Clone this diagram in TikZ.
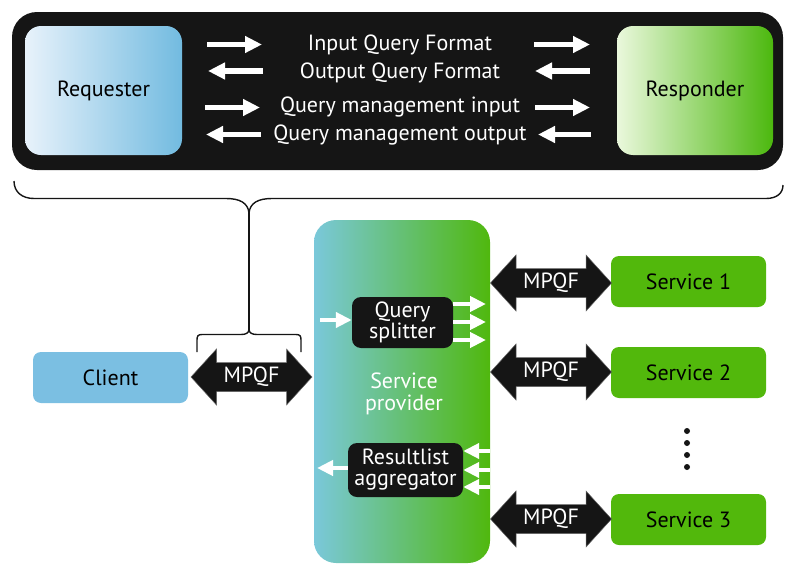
\documentclass[tikz,border=0pt]{standalone}
\usepackage{fontspec}
\setmainfont{PT Sans}
\usetikzlibrary{arrows.meta}
\definecolor{ink}{HTML}{151515}
\definecolor{reqL}{HTML}{E8F2FB}
\definecolor{reqR}{HTML}{72BBE0}
\definecolor{resL}{HTML}{EAF8DC}
\definecolor{resR}{HTML}{4CB80E}
\definecolor{clientblue}{HTML}{7BBFE2}
\definecolor{servgreen}{HTML}{52B80C}
\definecolor{spL}{HTML}{7AC8DA}
\definecolor{spM}{HTML}{78D2B0}
\definecolor{spR}{HTML}{50B80E}
\tikzset{
  box/.style={rounded corners=#1, inner sep=0pt, align=center},
  box/.default=8pt,
  bigarrow/.style={white, line width=5.5pt, -{Triangle[length=17pt,width=16pt]}},
  smallarrow/.style={white, line width=4pt, -{Triangle[length=16pt,width=15pt]}},
  bracepath/.style={draw=ink, line width=1.4pt},
  mpqfarrow/.pic={
    \fill[ink, draw=black!60, line width=0.5pt]
      (-60.5,0) -- (-35,-28) -- (-35,-14.5) -- (35,-14.5) -- (35,-28) -- (60.5,0)
      -- (35,28) -- (35,14.5) -- (-35,14.5) -- (-35,28) -- cycle;
    \node[text=white] (-lbl) at (0,0) {MPQF};
  }
}
\begin{document}
\begin{tikzpicture}[x=1pt,y=-1pt,font=\fontsize{22}{21}\selectfont]
\useasboundingbox (0,0) rectangle (785,565);

% upper panel: requester and responder exchanging query formats
\node[box=25pt, fill=ink, minimum width=771pt, minimum height=158pt] (panel) at (397.5,91) {};
\node[box=16pt, left color=reqL, right color=reqR, minimum width=157pt, minimum height=129pt] (req) at (103.5,90.5) {Requester};
\node[box=16pt, left color=resL, right color=resR, minimum width=156pt, minimum height=129pt] (res) at (695,90.5) {Responder};

\node[text=white] (l1) at (400,44.5) {Input Query Format};
\node[text=white] (l2) at (400,72.5) {Output Query Format};
\node[text=white] (l3) at (400,106.5) {Query management input};
\node[text=white] (l4) at (400,135) {Query management output};

\coordinate (a1a) at (207,44.5);  \coordinate (a1b) at (262,44.5);
\coordinate (a1c) at (534,44.5);  \coordinate (a1d) at (590,44.5);
\coordinate (a2a) at (263,71);    \coordinate (a2b) at (208,71);
\coordinate (a2c) at (590,71);    \coordinate (a2d) at (535,71);
\coordinate (a3a) at (205,107.5); \coordinate (a3b) at (260,107.5);
\coordinate (a3c) at (535,107.5); \coordinate (a3d) at (590,107.5);
\coordinate (a4a) at (261,134.5); \coordinate (a4b) at (206,134.5);
\coordinate (a4c) at (591,134.5); \coordinate (a4d) at (538,134.5);
\foreach \r in {1,2,3,4}{
  \draw[bigarrow] (a\r a) -- (a\r b);
  \draw[bigarrow] (a\r c) -- (a\r d);
}

% braces
\coordinate (bigtip) at (249,213);
\coordinate (smalltip) at (249,329);
\draw[bracepath] (14,181) .. controls (14,192) and (22,198.5) .. (34,198.5) -- (226,198.5)
  .. controls (240,198.5) and (248,203) .. (bigtip)
  .. controls (250,203) and (258,198.5) .. (272,198.5) -- (766,198.5)
  .. controls (777,198.5) and (783,193) .. (783,185);
\draw[bracepath] (bigtip) -- (smalltip);
\draw[bracepath] (197,352) -- (197,340) .. controls (197,336) and (198,334.5) .. (202,334.5) -- (241,334.5)
  .. controls (246,334.5) and (249,333) .. (smalltip)
  .. controls (249,333) and (252,334.5) .. (257,334.5) -- (296,334.5)
  .. controls (300,334.5) and (301,336) .. (301,340) -- (301,352);

% service provider with its two inner stages
\node[box=22pt, left color=spL, middle color=spM, right color=spR, minimum width=176pt, minimum height=343pt] (sp) at (402,391.5) {};
\node[text=white, align=center] (splabel) at (404,394) {Service\\[1pt]provider};
\node[box=9pt, fill=ink, text=white, minimum width=101pt, minimum height=51pt] (split) at (402.5,322.5) {Query\\splitter};
\node[box=9pt, fill=ink, text=white, minimum width=115pt, minimum height=54pt] (agg) at (405.5,470) {Resultlist\\aggregator};

\coordinate (splitin) at (320,320);
\draw[smallarrow] (splitin) -- (split.west |- splitin);
\foreach \y [count=\i] in {304,322,340}{
  \coordinate (sout\i) at (486,\y);
  \draw[smallarrow] (split.east |- sout\i) -- (sout\i);
}
\foreach \y [count=\i] in {451,470,487}{
  \coordinate (ain\i) at (490,\y);
  \draw[smallarrow] (ain\i) -- (agg.east |- ain\i);
}
\coordinate (aggout) at (317,468);
\draw[smallarrow] (agg.west |- aggout) -- (aggout);

% client and services
\node[box=8pt, fill=clientblue, minimum width=155pt, minimum height=51pt] (client) at (110.5,377.5) {Client};
\node[box=8pt, fill=servgreen, minimum width=155pt, minimum height=51pt] (s1) at (688.5,281.5) {Service 1};
\node[box=8pt, fill=servgreen, minimum width=155pt, minimum height=51pt] (s2) at (688.5,372.5) {Service 2};
\node[box=8pt, fill=servgreen, minimum width=155pt, minimum height=51pt] (s3) at (688.5,519.5) {Service 3};

% MPQF links
\pic (mc) at (251.5,377) {mpqfarrow};
\pic (m1) at (551,283) {mpqfarrow};
\pic (m2) at (551,372) {mpqfarrow};
\pic (m3) at (551,519) {mpqfarrow};

% more services
\foreach \y [count=\i] in {431,443,455,467}
  \fill[ink] (687,\y) circle (3pt) coordinate (dot\i);
\end{tikzpicture}
\end{document}
